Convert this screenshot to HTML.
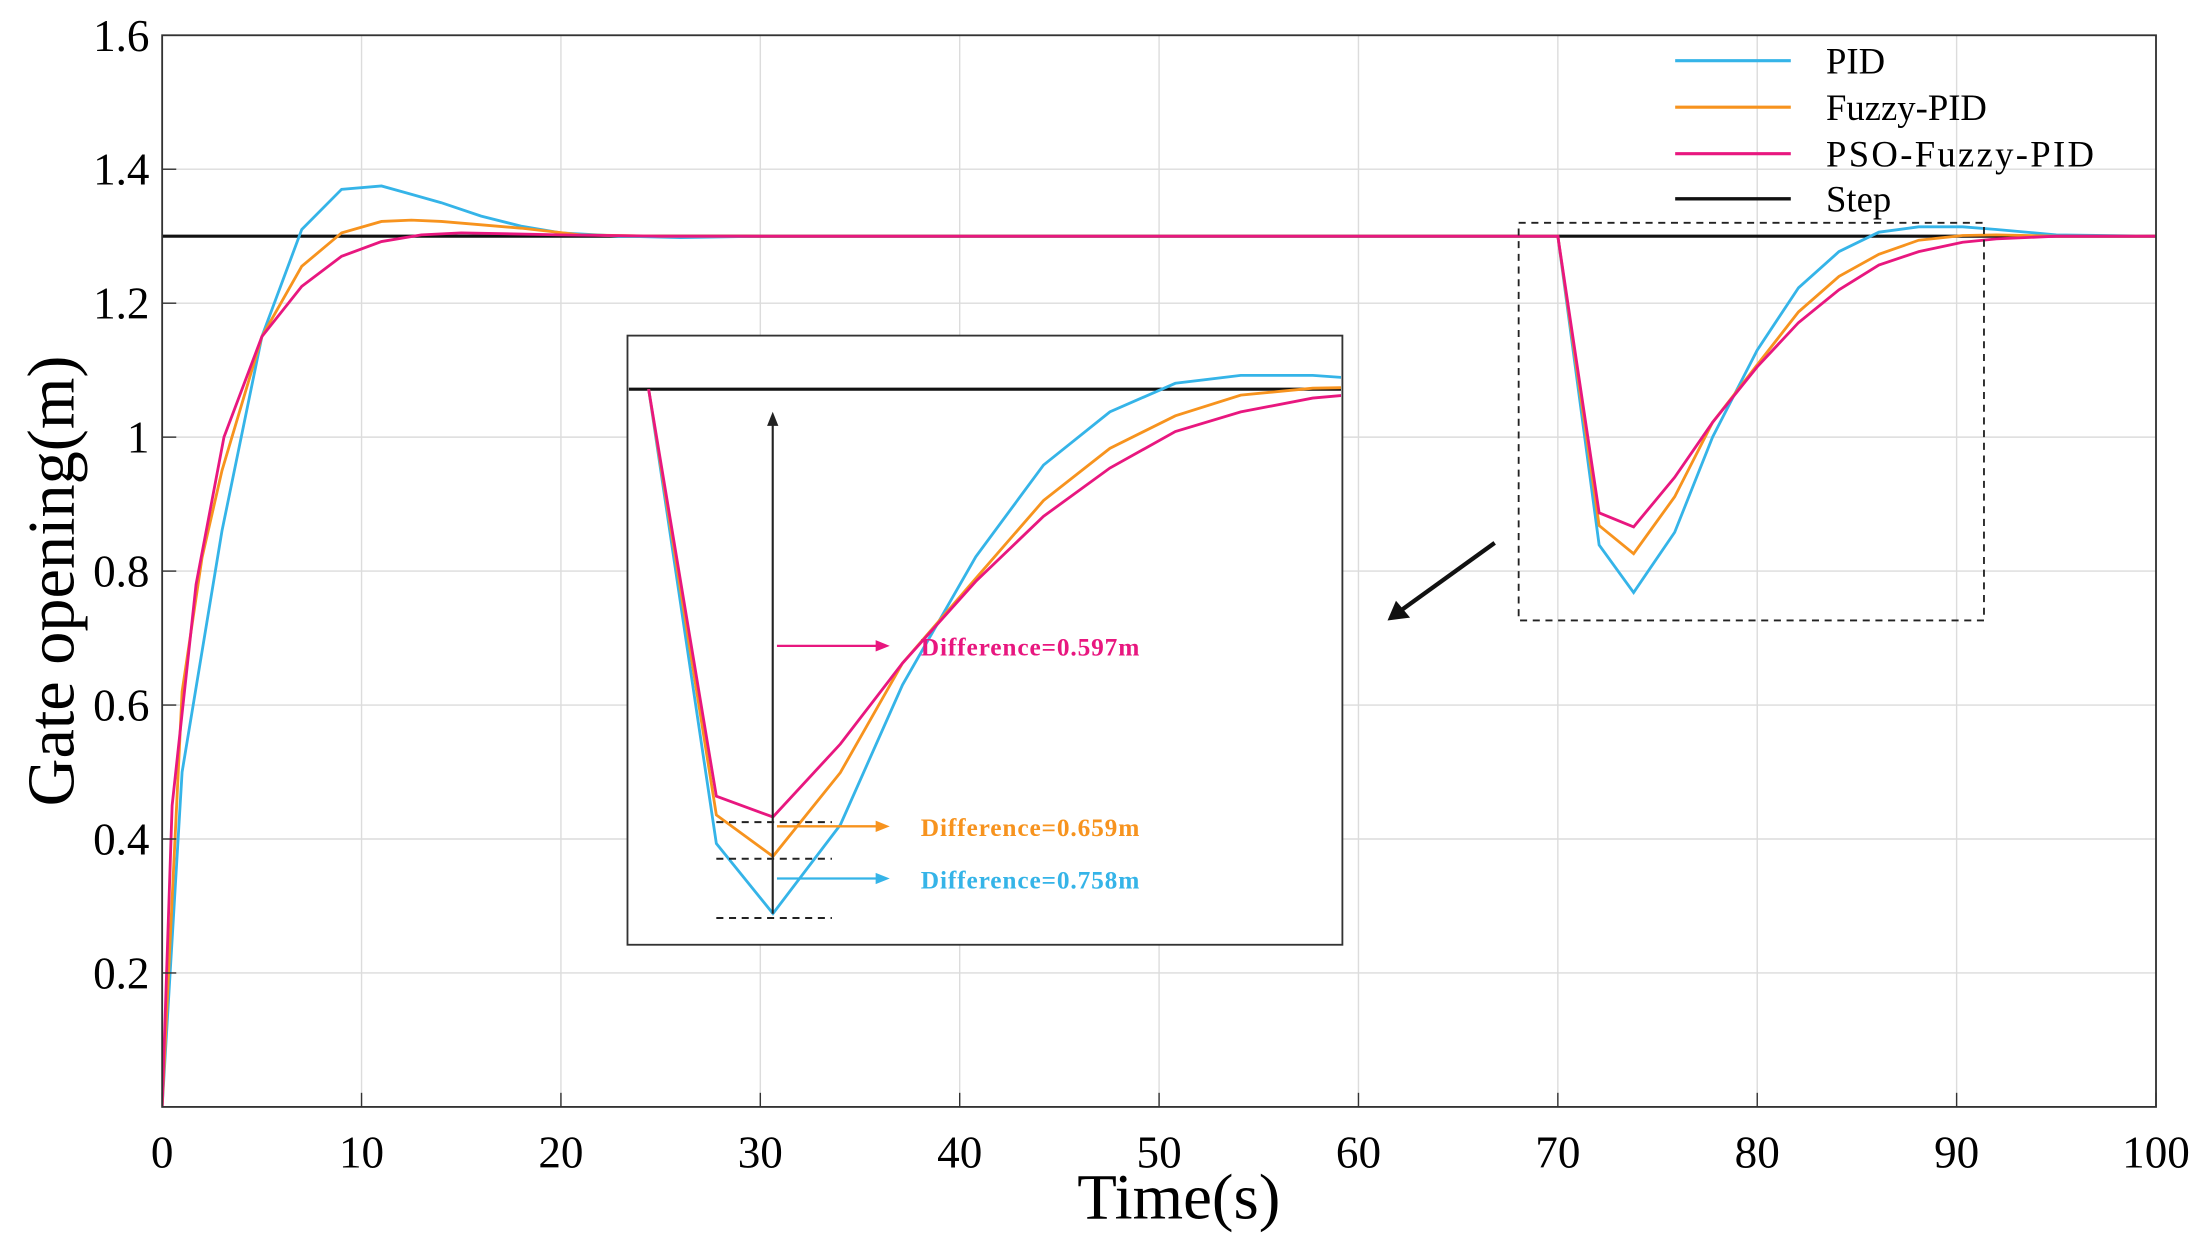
<!DOCTYPE html>
<html><head><meta charset="utf-8"><style>
html,body{margin:0;padding:0;background:#fff;}
svg{display:block;font-family:"Liberation Serif",serif;}
</style></head><body>
<svg id="chart" width="2211" height="1254" viewBox="0 0 1568 889.3" xmlns="http://www.w3.org/2000/svg">
<defs>
<clipPath id="plotClip"><rect x="115" y="25" width="1414" height="760"/></clipPath>
<clipPath id="insetClip"><rect x="446" y="239" width="505" height="430"/></clipPath>
</defs>
<g id="grid"></g>
<g id="main" clip-path="url(#plotClip)"></g>
<rect x="115" y="25" width="1414" height="760" fill="none" stroke="#333" stroke-width="1.3"/>
<g id="ticks"></g>
<text x="836" y="864" font-size="46" text-anchor="middle">Time(s)</text>
<text transform="translate(52,412) rotate(-90)" font-size="47" text-anchor="middle">Gate opening(m)</text>
<rect x="1077" y="158" width="330" height="282" fill="none" stroke="#222" stroke-width="1.3" stroke-dasharray="5,4"/>
<g>
<line x1="1060" y1="385" x2="992" y2="434" stroke="#111" stroke-width="3"/>
<polygon points="984,440 990,426 1000,438" fill="#111"/>
</g>
<rect x="445" y="238" width="507" height="432" fill="#fff" stroke="#333" stroke-width="1.3"/>
<g id="inset" clip-path="url(#insetClip)"></g>
<g id="annot">
<line x1="548" y1="648" x2="548" y2="298" stroke="#222" stroke-width="1.5"/>
<polygon points="548,292 544,302 552,302" fill="#222"/>
<line x1="508" y1="583" x2="590" y2="583" stroke="#222" stroke-width="1.4" stroke-dasharray="5,4"/>
<line x1="508" y1="609" x2="590" y2="609" stroke="#222" stroke-width="1.4" stroke-dasharray="5,4"/>
<line x1="508" y1="651" x2="590" y2="651" stroke="#222" stroke-width="1.4" stroke-dasharray="5,4"/>
<line x1="551" y1="458" x2="622" y2="458" stroke="#e8177f" stroke-width="1.6"/><polygon points="631,458 621,454 621,462" fill="#e8177f"/>
<line x1="551" y1="586" x2="622" y2="586" stroke="#f7931e" stroke-width="1.6"/><polygon points="631,586 621,582 621,590" fill="#f7931e"/>
<line x1="551" y1="623" x2="622" y2="623" stroke="#35b4e8" stroke-width="1.6"/><polygon points="631,623 621,619 621,627" fill="#35b4e8"/>
<text x="653" y="465" font-size="18" font-weight="bold" fill="#e8177f" textLength="155">Difference=0.597m</text>
<text x="653" y="593" font-size="18" font-weight="bold" fill="#f7931e" textLength="155">Difference=0.659m</text>
<text x="653" y="630" font-size="18" font-weight="bold" fill="#35b4e8" textLength="155">Difference=0.758m</text>
</g>
<g font-size="26">
<g><line x1="1188" y1="43" x2="1270" y2="43" stroke="#35b4e8" stroke-width="2.2"/><text x="1295" y="52">PID</text></g>
<g><line x1="1188" y1="76" x2="1270" y2="76" stroke="#f7931e" stroke-width="2.2"/><text x="1295" y="85">Fuzzy-PID</text></g>
<g><line x1="1188" y1="109" x2="1270" y2="109" stroke="#e8177f" stroke-width="2.2"/><text x="1295" y="118" textLength="190">PSO-Fuzzy-PID</text></g>
<g><line x1="1188" y1="141" x2="1270" y2="141" stroke="#111" stroke-width="2.4"/><text x="1295" y="150">Step</text></g>
</g>
<script>
const xTicks=[0,10,20,30,40,50,60,70,80,90,100];
const yTicks=[0.2,0.4,0.6,0.8,1,1.2,1.4,1.6];
const yTickLabels=["0.2","0.4","0.6","0.8","1","1.2","1.4","1.6"];
const stepValue=1.3;
const pidT=[0,1,3,5,7,9,11,12.2,14,16,18,20,23,26,30,40,60,70,72.07,73.8,75.86,77.76,80,82.07,84.1,86.1,88.1,90.3,92,95,100];
const pidV=[0,0.5,0.86,1.15,1.31,1.37,1.375,1.365,1.35,1.33,1.315,1.305,1.3,1.298,1.3,1.3,1.3,1.3,0.839,0.768,0.858,1.0,1.13,1.223,1.277,1.306,1.314,1.314,1.31,1.302,1.3];
const fuzT=[0,1,2,3,5,7,9,11,12.5,14,16,18,21,25,40,70,72.07,73.8,75.86,77.76,80,82.07,84.1,86.1,88.1,90.3,92,95,100];
const fuzV=[0,0.62,0.82,0.95,1.15,1.255,1.305,1.322,1.324,1.322,1.317,1.312,1.302,1.3,1.3,1.3,0.868,0.826,0.911,1.022,1.108,1.187,1.24,1.273,1.294,1.301,1.302,1.3,1.3];
const psoT=[0,0.5,1.7,3.1,5,7,9,11,13,15,20,25,40,70,72.07,73.8,75.86,77.76,80,82.07,84.1,86.1,88.1,90.3,92,95,100];
const psoV=[0,0.45,0.78,1.0,1.15,1.225,1.27,1.292,1.302,1.305,1.302,1.3,1.3,1.3,0.887,0.866,0.94,1.022,1.105,1.171,1.22,1.257,1.277,1.291,1.296,1.3,1.3];

const NS="http://www.w3.org/2000/svg";
const X=t=>115+t*14.14, Y=v=>785-v*475;
const XI=t=>460+(t-70)*23.2, YI=v=>276+(1.3-v)*699;
function mk(tag,attrs,parent){const e=document.createElementNS(NS,tag);for(const k in attrs)e.setAttribute(k,attrs[k]);parent.appendChild(e);return e;}
const grid=document.getElementById('grid'),ticks=document.getElementById('ticks');
xTicks.forEach(t=>{
  const g=mk('line',{x1:X(t),x2:X(t),y1:25,y2:785,stroke:'#dcdcdc','stroke-width':1},grid);
  
  
  const tk=mk('line',{x1:X(t),x2:X(t),y1:785,y2:775,stroke:'#333','stroke-width':1},ticks);
  
  
  const tx=mk('text',{x:X(t),y:828,'font-size':32,'text-anchor':'middle'},ticks);
  tx.textContent=t;
  
  
});
yTicks.forEach((v,i)=>{
  const g=mk('line',{x1:115,x2:1529,y1:Y(v),y2:Y(v),stroke:'#dcdcdc','stroke-width':1},grid);
  
  
  const tk=mk('line',{x1:115,x2:125,y1:Y(v),y2:Y(v),stroke:'#333','stroke-width':1},ticks);
  
  
  const tx=mk('text',{x:106,y:Y(v)+11,'font-size':32,'text-anchor':'end'},ticks);
  tx.textContent=yTickLabels[i];
  
  
});
const series=[[pidT,pidV,'#35b4e8','pid'],[fuzT,fuzV,'#f7931e','fuzzy-pid'],[psoT,psoV,'#e8177f','pso-fuzzy-pid']];
const main=document.getElementById('main'),inset=document.getElementById('inset');
const s1=mk('line',{x1:X(0),x2:X(100),y1:Y(stepValue),y2:Y(stepValue),stroke:'#111','stroke-width':2.2},main);


const s2=mk('line',{x1:440,x2:960,y1:YI(stepValue),y2:YI(stepValue),stroke:'#111','stroke-width':2.2},inset);


series.forEach(([ts,vs,c,n])=>{
  const p=mk('polyline',{points:ts.map((t,i)=>X(t)+','+Y(vs[i])).join(' '),fill:'none',stroke:c,'stroke-width':2},main);
  
  
  const pts=[];ts.forEach((t,i)=>{if(t>=70)pts.push(XI(t)+','+YI(vs[i]));});
  const q=mk('polyline',{points:pts.join(' '),fill:'none',stroke:c,'stroke-width':2},inset);
  
  
});
</script>
</svg>
</body></html>
